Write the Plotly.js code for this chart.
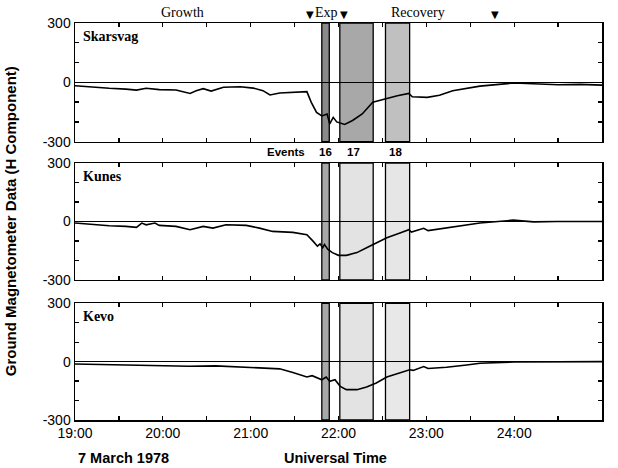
<!DOCTYPE html>
<html>
<head>
<meta charset="utf-8">
<script src="https://cdn.plot.ly/plotly-3.0.1.min.js"></script>
<style>html,body{margin:0;padding:0;background:#fff;}#chart{width:618px;height:468px;}</style>
</head>
<body>
<div id="chart"></div>
<script>
// Time in decimal hours UT (25 = 01:00 next day)
const skarsvagT = [19.00,19.20,19.39,19.58,19.70,19.81,19.96,20.15,20.31,20.38,20.46,20.55,20.69,20.88,21.03,21.14,21.22,21.33,21.48,21.64,21.69,21.75,21.81,21.87,21.90,21.94,21.98,22.07,22.16,22.27,22.39,22.55,22.67,22.80,22.84,23.01,23.15,23.30,23.46,23.61,24.00,24.24,24.50,24.75,25.00];
const skarsvagH = [-17,-25,-30,-34,-39,-30,-37,-39,-56,-42,-32,-44,-25,-22,-29,-42,-64,-54,-49,-47,-101,-152,-170,-160,-210,-177,-200,-213,-193,-160,-101,-80,-68,-56,-73,-76,-65,-42,-29,-19,-3,-8,-12,-10,-14];

const kunesT = [19.00,19.20,19.39,19.58,19.70,19.76,19.81,19.91,19.96,20.15,20.31,20.46,20.57,20.72,20.95,21.10,21.25,21.48,21.64,21.71,21.76,21.79,21.82,21.84,21.88,21.93,22.00,22.09,22.21,22.32,22.43,22.55,22.70,22.80,22.83,22.93,22.97,23.02,23.23,23.46,23.61,23.99,24.22,24.49,25.00];
const kunesH = [-8,-17,-22,-25,-30,-8,-17,-8,-20,-25,-42,-25,-34,-17,-20,-34,-51,-56,-68,-101,-127,-115,-135,-118,-144,-160,-174,-174,-160,-135,-110,-84,-59,-42,-54,-42,-35,-47,-34,-17,-8,7,-2,0,0];

const kevoT = [19.00,19.30,19.60,20.00,20.30,20.60,20.90,21.10,21.33,21.48,21.64,21.70,21.81,21.86,21.90,21.96,22.02,22.09,22.21,22.32,22.43,22.55,22.70,22.81,22.85,22.97,23.02,23.23,23.46,23.61,24.00,24.50,25.00];
const kevoH = [-12,-15,-18,-20,-24,-22,-28,-33,-37,-56,-79,-72,-93,-79,-101,-93,-127,-144,-144,-130,-110,-79,-56,-42,-45,-25,-35,-29,-17,-8,-2,0,0];

const stations = ['Skarsvag','Kunes','Kevo'];
const eventNames = ['16','17','18'];
const eventStart = [21.81, 22.015, 22.535];
const eventEnd = [21.895, 22.395, 22.81];
const phaseLabels = ['Growth','Exp','Recovery'];
const phaseX = [20.22, 21.865, 22.905];
const onsetArrows = [21.68, 22.06, 23.78];
const xTickVals = [19,19.5,20,20.5,21,21.5,22,22.5,23,23.5,24,24.5,25];
const xTickText = ['19:00','','20:00','','21:00','','22:00','','23:00','','24:00','','01:00'];
const yTickVals = [-300,-200,-100,0,100,200,300];
const yTickText = ['-300','','','0','','','300'];

const series = [[skarsvagT,skarsvagH],[kunesT,kunesH],[kevoT,kevoH]];
const traces = series.map((s,i)=>({
  x: s[0], y: s[1], type:'scatter', mode:'lines',
  line:{color:'#000', width:1.6},
  xaxis: i===0?'x':'x'+(i+1), yaxis: i===0?'y':'y'+(i+1),
  hoverinfo:'skip', showlegend:false
}));

const domains = [[0.701,1],[0.353,0.647],[0,0.294]];
const serif = 'Liberation Serif, Times New Roman, serif';
const sans = 'Liberation Sans, Arial, Helvetica, sans-serif';

const layout = {
  width:618, height:468,
  margin:{l:75, r:16, t:23, b:48},
  paper_bgcolor:'#fff', plot_bgcolor:'#fff',
  showlegend:false,
  shapes:[], annotations:[]
};
for (let i=0;i<3;i++){
  const xs = i===0?'xaxis':'xaxis'+(i+1);
  const ys = i===0?'yaxis':'yaxis'+(i+1);
  layout[xs] = {
    range:[19,25], domain:[0,1], anchor: i===0?'y':'y'+(i+1),
    tickvals:xTickVals, ticktext:xTickText, ticks:'inside', ticklen:4, tickcolor:'#000', tickwidth:1.3,
    showline:true, linecolor:'#000', linewidth:1.5, mirror:'ticks',
    showgrid:false, zeroline:false, showticklabels: i===2,
    tickfont:{family:sans, size:14, color:'#000'}, fixedrange:true
  };
  layout[ys] = {
    range:[-300,300], domain:domains[i], anchor: i===0?'x':'x'+(i+1),
    tickvals:yTickVals, ticktext:yTickText, ticks:'inside', ticklen:4, tickcolor:'#000', tickwidth:1.3,
    showline:true, linecolor:'#000', linewidth:1.5, mirror:'ticks',
    showgrid:false, zeroline:true, zerolinecolor:'#000', zerolinewidth:1.2,
    tickfont:{family:sans, size:14, color:'#000'}, fixedrange:true
  };
}
const fills = [['#8a8a8a','#a8a8a8','#c0c0c0'],['#a8a8a8','#e3e3e3','#e6e6e6'],['#a8a8a8','#e3e3e3','#e8e8e8']];
for (let i=0;i<3;i++){
  const xr = i===0?'x':'x'+(i+1);
  const yr = (i===0?'y':'y'+(i+1))+' domain';
  for (let e=0;e<eventStart.length;e++){
    layout.shapes.push({type:'rect', xref:xr, yref:yr, x0:eventStart[e], x1:eventEnd[e], y0:0, y1:1,
      fillcolor:fills[i][e], line:{color:'#000', width:1.3}, layer:'below'});
  }
  layout.annotations.push({xref:xr, yref:yr, x:19.07, y:0.885, xanchor:'left', yanchor:'middle', showarrow:false,
    text:'<b>'+stations[i]+'</b>', font:{family:serif, size:14, color:'#000'}});
}
// phase labels above top panel
for (let p=0;p<phaseLabels.length;p++){
  layout.annotations.push({xref:'x', yref:'paper', x:phaseX[p], y:1.027, xanchor:'center', yanchor:'middle', showarrow:false,
    text:phaseLabels[p], font:{family:serif, size:14, color:'#000'}});
}
for (let a=0;a<onsetArrows.length;a++){
  layout.annotations.push({xref:'x', yref:'paper', x:onsetArrows[a], y:1.022, xanchor:'center', yanchor:'middle', showarrow:false,
    text:'▼', font:{family:'DejaVu Sans, sans-serif', size:10, color:'#000'}});
}
// events labels between panel 1 and 2
layout.annotations.push({xref:'x', yref:'paper', x:21.64, y:0.675, xanchor:'right', yanchor:'middle', showarrow:false,
  text:'<b>Events</b>', font:{family:sans, size:11.5, color:'#000'}});
const evLabelX = [21.855, 22.175, 22.65];
for (let e=0;e<eventNames.length;e++){
  layout.annotations.push({xref:'x', yref:'paper', x:evLabelX[e], y:0.675, xanchor:'center', yanchor:'middle', showarrow:false,
    text:'<b>'+eventNames[e]+'</b>', font:{family:sans, size:11.5, color:'#000'}});
}
// axis titles
layout.annotations.push({xref:'paper', yref:'paper', x:-0.122, y:0.5, xanchor:'center', yanchor:'middle', showarrow:false, textangle:-90,
  text:'<b>Ground Magnetometer Data (H Component)</b>', font:{family:sans, size:15, color:'#000'}});
layout.annotations.push({xref:'paper', yref:'paper', x:0.002, y:-0.095, xanchor:'left', yanchor:'middle', showarrow:false,
  text:'<b>7 March 1978</b>', font:{family:sans, size:14.5, color:'#000'}});
layout.annotations.push({xref:'x3', yref:'paper', x:21.97, y:-0.095, xanchor:'center', yanchor:'middle', showarrow:false,
  text:'<b>Universal Time</b>', font:{family:sans, size:14.5, color:'#000'}});

Plotly.newPlot('chart', traces, layout, {staticPlot:true, displayModeBar:false});
</script>
</body>
</html>
